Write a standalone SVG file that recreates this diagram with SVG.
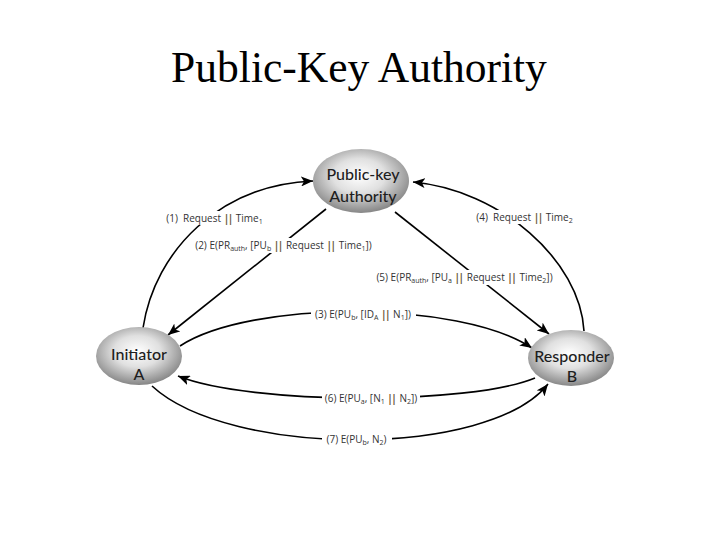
<svg xmlns="http://www.w3.org/2000/svg" width="720" height="540" viewBox="0 0 720 540">
<style>
.title{font-family:"Liberation Serif","Times New Roman",serif;font-size:43.5px;fill:#000}
.node{stroke:none;fill:url(#g)}
.nt{font-family:Lato,"Open Sans",sans-serif;font-size:16px;fill:#1e1e1e;text-anchor:middle;font-weight:500}
.c{fill:none;stroke:#000;stroke-width:1.6}
.lb{font-family:"Open Sans","Noto Sans",sans-serif;font-size:10px;fill:#333;text-anchor:middle}
.bg{fill:#fff}
.s{font-size:7px}
.b{fill:#6b5a3a;font-weight:bold}
</style>
<defs>
<radialGradient id="g" cx="48%" cy="42%" r="60%">
<stop offset="0" stop-color="#ffffff"/>
<stop offset="0.45" stop-color="#e0e0e0"/>
<stop offset="1" stop-color="#808080"/>
</radialGradient>
<marker id="ah" viewBox="0 0 12 10" refX="12" refY="5" markerWidth="12" markerHeight="10" markerUnits="userSpaceOnUse" orient="auto">
<path d="M0,0 L12,5 L0,10 L3,5 z" fill="#000"/>
</marker>
</defs>
<rect width="720" height="540" fill="#fff"/>
<text class="title" x="359" y="82" text-anchor="middle">Public-Key Authority</text>

<g id="connectors">
<path class="c" d="M143,328 C155,250 220,185 313,181" marker-end="url(#ah)"/>
<path class="c" d="M326,209 L168,335" marker-end="url(#ah)"/>
<path class="c" d="M180,346 C250,300 460,300 532,348" marker-end="url(#ah)"/>
<path class="c" d="M584,331 C580,260 500,190 413,182" marker-end="url(#ah)"/>
<path class="c" d="M395,212 L549,334" marker-end="url(#ah)"/>
<path class="c" d="M535,378 C470,405 250,405 178,376" marker-end="url(#ah)"/>
<path class="c" d="M152,386 C230,458 490,458 548,384" marker-end="url(#ah)"/>

<rect class="bg" x="164" y="211" width="101" height="14"/>
<text class="lb" x="214.5" y="222">(1)&#160; Request <tspan class="b">|</tspan><tspan class="b" dx="-1.5">|</tspan> Time<tspan class="s" dy="2">1</tspan></text>

<rect class="bg" x="196" y="238" width="175" height="15"/>
<text class="lb" x="283.5" y="249">(2) E(PR<tspan class="s" dy="2">auth</tspan><tspan dy="-2">, [PU</tspan><tspan class="s" dy="2">b</tspan><tspan dy="-2"> </tspan><tspan class="b">|</tspan><tspan class="b" dx="-1.5">|</tspan> Request <tspan class="b">|</tspan><tspan class="b" dx="-1.5">|</tspan> Time<tspan class="s" dy="2">1</tspan><tspan dy="-2">])</tspan></text>

<rect class="bg" x="311" y="308" width="105" height="14"/>
<text class="lb" x="363" y="318">(3) E(PU<tspan class="s" dy="2">b</tspan><tspan dy="-2">, [ID</tspan><tspan class="s" dy="2">A</tspan><tspan dy="-2"> </tspan><tspan class="b">|</tspan><tspan class="b" dx="-1.5">|</tspan> N<tspan class="s" dy="2">1</tspan><tspan dy="-2">])</tspan></text>

<rect class="bg" x="475" y="210" width="100" height="14"/>
<text class="lb" x="524.5" y="221">(4)&#160; Request <tspan class="b">|</tspan><tspan class="b" dx="-1.5">|</tspan> Time<tspan class="s" dy="2">2</tspan></text>

<rect class="bg" x="379" y="270" width="171" height="15"/>
<text class="lb" x="464.5" y="281">(5) E(PR<tspan class="s" dy="2">auth</tspan><tspan dy="-2">, [PU</tspan><tspan class="s" dy="2">a</tspan><tspan dy="-2"> </tspan><tspan class="b">|</tspan><tspan class="b" dx="-1.5">|</tspan> Request <tspan class="b">|</tspan><tspan class="b" dx="-1.5">|</tspan> Time<tspan class="s" dy="2">2</tspan><tspan dy="-2">])</tspan></text>

<rect class="bg" x="322" y="391" width="98" height="14"/>
<text class="lb" x="371" y="402">(6) E(PU<tspan class="s" dy="2">a</tspan><tspan dy="-2">, [N</tspan><tspan class="s" dy="2">1</tspan><tspan dy="-2"> </tspan><tspan class="b">|</tspan><tspan class="b" dx="-1.5">|</tspan> N<tspan class="s" dy="2">2</tspan><tspan dy="-2">])</tspan></text>

<rect class="bg" x="322" y="432" width="70" height="14"/>
<text class="lb" x="356.5" y="443">(7) E(PU<tspan class="s" dy="2">b</tspan><tspan dy="-2">, N</tspan><tspan class="s" dy="2">2</tspan><tspan dy="-2">)</tspan></text>
</g>

<g id="authority">
<ellipse class="node" cx="361" cy="181" rx="48" ry="32"/>
<text class="nt" x="363" y="180">Public-key</text>
<text class="nt" x="363" y="202">Authority</text>
</g>
<g id="initiator">
<ellipse class="node" cx="139" cy="356" rx="43" ry="29"/>
<text class="nt" x="139" y="360">Initiator</text>
<text class="nt" x="139" y="380">A</text>
</g>
<g id="responder">
<ellipse class="node" cx="571" cy="358" rx="43" ry="28"/>
<text class="nt" x="572" y="362">Responder</text>
<text class="nt" x="572" y="382">B</text>
</g>
</svg>
